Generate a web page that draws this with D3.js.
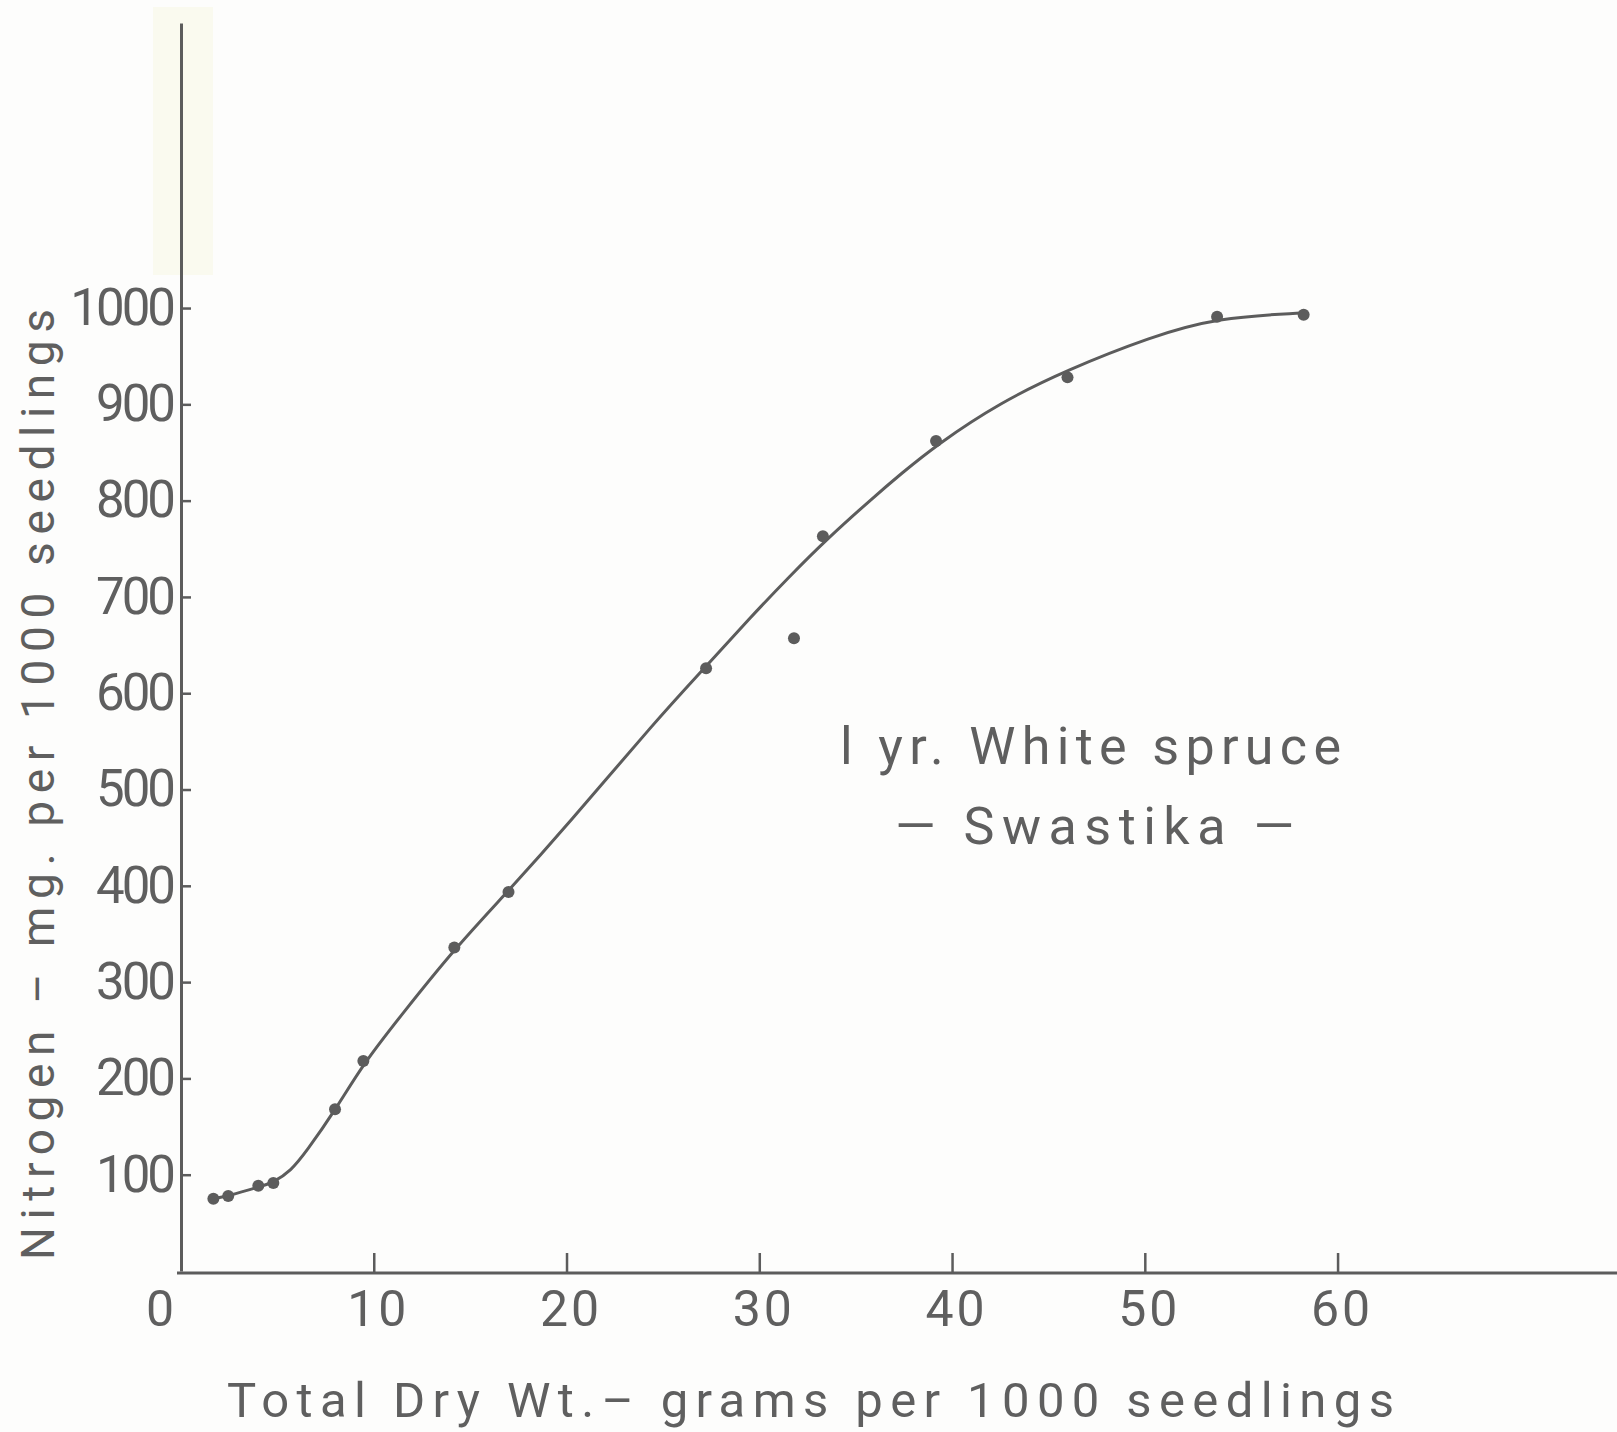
<!DOCTYPE html>
<html>
<head>
<meta charset="utf-8">
<script src="https://cdn.jsdelivr.net/npm/d3@7"></script>
<style>
  html, body { margin: 0; padding: 0; background: #fdfdfc; }
  svg text { font-family: Roboto, "DejaVu Sans", sans-serif; fill: #5f5f5f; }
</style>
</head>
<body>
<div id="chart"></div>
<script>
// ---------------------------------------------------------------- Data
// observed points: total dry wt (g / 1000 seedlings) vs nitrogen (mg / 1000 seedlings)
var dryWeight = [1.68, 2.45, 4.01, 4.79, 7.99, 9.46, 14.18, 16.99, 27.24, 31.8, 33.3, 39.17, 45.99, 53.75, 58.24];
var nitrogen  = [75, 78, 88.5, 91.5, 168, 218, 336, 393.5, 626, 657, 763, 862, 928, 991, 993];

// hand drawn fitted curve
var curveX = [1.68, 2.45, 4.0, 4.8, 5.7, 6.5, 8.0, 9.45, 11.4, 14.2, 17.0, 20.0, 24.7, 27.2, 29.5, 31.6, 33.5, 35.9, 37.3, 39.2, 42.5, 46.0, 50.3, 53.75, 58.24];
var curveY = [75, 78, 87, 92, 104, 124, 167, 215, 265, 335, 395, 462, 573, 627, 678, 722, 760, 803, 827, 858, 902, 936, 970, 990, 995];

var xTicks = [0, 10, 20, 30, 40, 50, 60];
var yTicks = [100, 200, 300, 400, 500, 600, 700, 800, 900, 1000];

var xTitle = 'Total Dry Wt.\u2013 grams per 1000 seedlings';
var yTitle = 'Nitrogen \u2013 mg. per 1000 seedlings';
var noteLines = ['l yr. White spruce', '\u2014 Swastika \u2014'];
// ---------------------------------------------------------------- /Data

var width = 1617,
    height = 1432,
    ink = '#5c5c5c';

var x = d3.scaleLinear().domain([0, 74.6]).range([181, 1619]);
var y = d3.scaleLinear().domain([0, 1296]).range([1271, 23]);

var svg = d3.select('#chart').append('svg')
    .attr('width', width)
    .attr('height', height);

// faint scan tint at top left
svg.append('rect')
    .attr('x', 153).attr('y', 7)
    .attr('width', 60).attr('height', 268)
    .attr('fill', '#fafaef');

// x axis
var xAxis = d3.axisBottom(x)
    .tickValues(xTicks)
    .tickSize(-20)
    .tickSizeOuter(0)
    .tickPadding(17)
    .tickFormat(d3.format('d'));

var gx = svg.append('g')
    .attr('transform', 'translate(0,1273)')
    .call(xAxis);
gx.select('.domain').attr('stroke', ink).attr('stroke-width', 3).attr('d', 'M177,0H1617');
gx.selectAll('.tick line').attr('stroke', ink).attr('stroke-width', 2.5);
gx.selectAll('.tick text')
    .style('font-size', '50px')
    .style('letter-spacing', '3px')
    .attr('dx', function(d) { return d == 0 ? -20 : 4; });
gx.selectAll('.tick').filter(function(d) { return d == 0; }).select('line').remove();

// y axis
var yAxis = d3.axisLeft(y)
    .tickValues(yTicks)
    .tickSize(-10)
    .tickSizeOuter(0)
    .tickPadding(8)
    .tickFormat(d3.format('d'));

var gy = svg.append('g')
    .attr('transform', 'translate(181,0)')
    .call(yAxis);
gy.select('.domain').attr('stroke', ink).attr('stroke-width', 3);
gy.selectAll('.tick line').attr('stroke', ink).attr('stroke-width', 2.5);
gy.selectAll('.tick text')
    .style('font-size', '51px')
    .style('letter-spacing', '-3px');

// titles
svg.append('text')
    .attr('x', 227).attr('y', 1417)
    .attr('textLength', 1167)
    .attr('lengthAdjust', 'spacing')
    .style('font-size', '49px')
    .text(xTitle);

svg.append('text')
    .attr('transform', 'translate(54,1260) rotate(-90)')
    .attr('textLength', 951)
    .attr('lengthAdjust', 'spacing')
    .style('font-size', '46px')
    .text(yTitle);

// annotation
svg.append('text')
    .attr('x', 840).attr('y', 764)
    .attr('textLength', 501)
    .attr('lengthAdjust', 'spacing')
    .style('font-size', '52px')
    .text(noteLines[0]);

svg.append('text')
    .attr('x', 895).attr('y', 844)
    .attr('textLength', 399)
    .attr('lengthAdjust', 'spacing')
    .style('font-size', '52px')
    .text(noteLines[1]);

// fitted curve
var curveData = curveX.map(function(d, i) { return [d, curveY[i]]; });
var line = d3.line()
    .x(function(d) { return x(d[0]); })
    .y(function(d) { return y(d[1]); })
    .curve(d3.curveBasis);

svg.append('path')
    .datum(curveData)
    .attr('fill', 'none')
    .attr('stroke', ink)
    .attr('stroke-width', 3)
    .attr('d', line);

// points
var points = dryWeight.map(function(d, i) { return {x: d, y: nitrogen[i]}; });
svg.append('g').selectAll('circle')
    .data(points)
  .enter().append('circle')
    .attr('cx', function(d) { return x(d.x); })
    .attr('cy', function(d) { return y(d.y); })
    .attr('r', 6)
    .attr('fill', ink);
</script>
</body>
</html>
